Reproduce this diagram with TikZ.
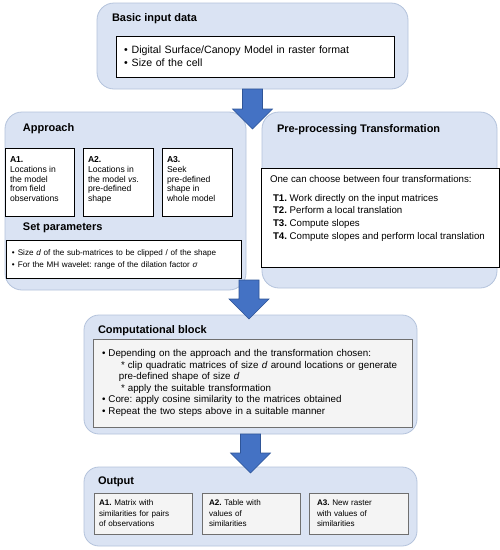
\documentclass[tikz,border=0pt]{standalone}
\usepackage{fontspec}
\setmainfont{Liberation Sans}
\usepackage{tikz}
\usetikzlibrary{calc}
\definecolor{groupfill}{HTML}{DAE3F3}
\definecolor{groupedge}{HTML}{B4C3DC}
\definecolor{arrowfill}{HTML}{4472C4}
\definecolor{arrowedge}{HTML}{2F5597}
\definecolor{cellfill}{HTML}{F4F4F4}
\definecolor{celledge}{HTML}{6F6F6F}
\frenchspacing

\begin{document}
\begin{tikzpicture}[x=1pt,y=-1pt]
		
		\tikzstyle{every node}=[inner sep=0pt, outer sep=0pt]
		\tikzstyle{group}=[draw=groupedge, line width=0.8pt, fill=groupfill, rounded corners=17pt, anchor=north west]
		\tikzstyle{card}=[draw=black, line width=0.9pt, fill=white, anchor=north west, align=left]
		\tikzstyle{cell}=[card, draw=celledge, fill=cellfill]
		\tikzstyle{title}=[anchor=west, font=\fontsize{11}{12}\selectfont\bfseries]
		\tikzstyle{bigarrow}=[draw=arrowedge, line width=0.6pt, fill=arrowfill,
			to path={let \p1=(\tikztostart), \p2=(\tikztotarget) in
				(\x1-10pt,\y1) -- (\x1-10pt,\y2+20pt) -- (\x1-20pt,\y2+20pt) -- (\x1,\y2)
				-- (\x1+20pt,\y2+20pt) -- (\x1+10pt,\y2+20pt) -- (\x1+10pt,\y1) -- cycle}]
		
		\fill[white] (0,0) rectangle (500,550);
		\useasboundingbox (0,0) rectangle (500,550);
		
		% input
		\node[group, minimum width=311pt, minimum height=86pt] (input) at (97,3) {};
		\node[title] (inputtitle) at (112,19) {Basic input data};
		\node[card, inner xsep=8pt, text width=262pt, minimum height=41pt,
			font=\fontsize{10.6}{13}\selectfont] (inputlist) at (116,36)
			{\textbullet\hspace{4pt}Digital Surface/Canopy Model in raster format\\
			\textbullet\hspace{4pt}Size of the cell};
		
		% approach
		\node[group, minimum width=241pt, minimum height=178pt] (approach) at (5,112) {};
		\node[title] (approachtitle) at (23,129) {Approach};
		\node[card, inner xsep=5pt, inner ysep=8.5pt, font=\fontsize{8.6}{9.8}\selectfont] (aone) at (5,148)
			{\parbox[t][51pt][t]{59pt}{\raggedright\textbf{A1.}\\Locations in\\the model\\from field\\observations}};
		\node[card, inner xsep=5pt, inner ysep=8.5pt, font=\fontsize{8.6}{9.8}\selectfont] (atwo) at (83,148)
			{\parbox[t][51pt][t]{60pt}{\raggedright\textbf{A2.}\\Locations in\\the model \textit{vs.}\\pre-defined\\shape}};
		\node[card, inner xsep=5pt, inner ysep=8.5pt, font=\fontsize{8.6}{9.8}\selectfont] (athree) at (162,148)
			{\parbox[t][51pt][t]{60pt}{\raggedright\textbf{A3.}\\Seek\\pre-defined\\shape in\\whole model}};
		\node[title] (paramtitle) at (23,228) {Set parameters};
		\node[card, inner xsep=6pt, text width=223pt, minimum height=38pt,
			font=\fontsize{8.1}{12}\selectfont] (params) at (6,240)
			{\textbullet\hspace{3pt}Size \textit{d} of the sub-matrices to be clipped / of the shape\\
			\textbullet\hspace{3pt}For the MH wavelet: range of the dilation factor \textit{σ}};
		
		% pre-processing
		\node[group, minimum width=235pt, minimum height=176pt] (pre) at (262,112) {};
		\node[title] (pretitle) at (277,130) {Pre-processing Transformation};
		\node[card, inner xsep=9pt, inner ysep=7.5pt, font=\fontsize{9.7}{12.7}\selectfont] (prelist) at (261,168)
			{\parbox[t][84pt][t]{220pt}{One can choose between four transformations:\\[6pt]
			\hspace*{3pt}\textbf{T1.} Work directly on the input matrices\\
			\hspace*{3pt}\textbf{T2.} Perform a local translation\\
			\hspace*{3pt}\textbf{T3.} Compute slopes\\
			\hspace*{3pt}\textbf{T4.} Compute slopes and perform local translation}};
		
		% computational block
		\node[group, minimum width=333pt, minimum height=119pt, rounded corners=15pt] (comp) at (84,315) {};
		\node[title] (comptitle) at (98,331) {Computational block};
		\node[cell, inner xsep=9pt, text width=301pt, minimum height=88pt,
			font=\fontsize{9.8}{11.6}\selectfont] (compsteps) at (93,339)
			{\textbullet\hspace{3pt}Depending on the approach and the transformation chosen:\\
			\hspace*{19pt}*\hspace{3pt}clip quadratic matrices of size \textit{d} around locations or generate\\
			\hspace*{17pt}pre-defined shape of size \textit{d}\\
			\hspace*{19pt}*\hspace{3pt}apply the suitable transformation\\
			\textbullet\hspace{3pt}Core: apply cosine similarity to the matrices obtained\\
			\textbullet\hspace{3pt}Repeat the two steps above in a suitable manner};
		
		% output
		\node[group, minimum width=333pt, minimum height=79pt, rounded corners=15pt] (output) at (84,467) {};
		\node[title] (outputtitle) at (98,482) {Output};
		\node[cell, inner xsep=5pt, text width=88pt, minimum height=41pt,
			font=\fontsize{8.1}{10.5}\selectfont] (oone) at (94,493)
			{\textbf{A1.} Matrix with\\similarities for pairs\\of observations};
		\node[cell, inner xsep=7pt, text width=84pt, minimum height=41pt,
			font=\fontsize{8.1}{10.5}\selectfont] (otwo) at (202,493)
			{\textbf{A2.} Table with\\values of\\similarities};
		\node[cell, inner xsep=8pt, text width=83pt, minimum height=41pt,
			font=\fontsize{8.1}{10.5}\selectfont] (othree) at (309,493)
			{\textbf{A3.} New raster\\with values of\\similarities};
		
		% arrows
		\coordinate (tipone) at (251,129);
		\coordinate (split) at (249,280);
		\draw[bigarrow] (input.south) to (tipone);
		\draw[bigarrow] (split) to ([yshift=-4pt]comp.north);
		\draw[bigarrow] (comp.south) to ([yshift=-6pt]output.north);
		
\end{tikzpicture}
\end{document}
